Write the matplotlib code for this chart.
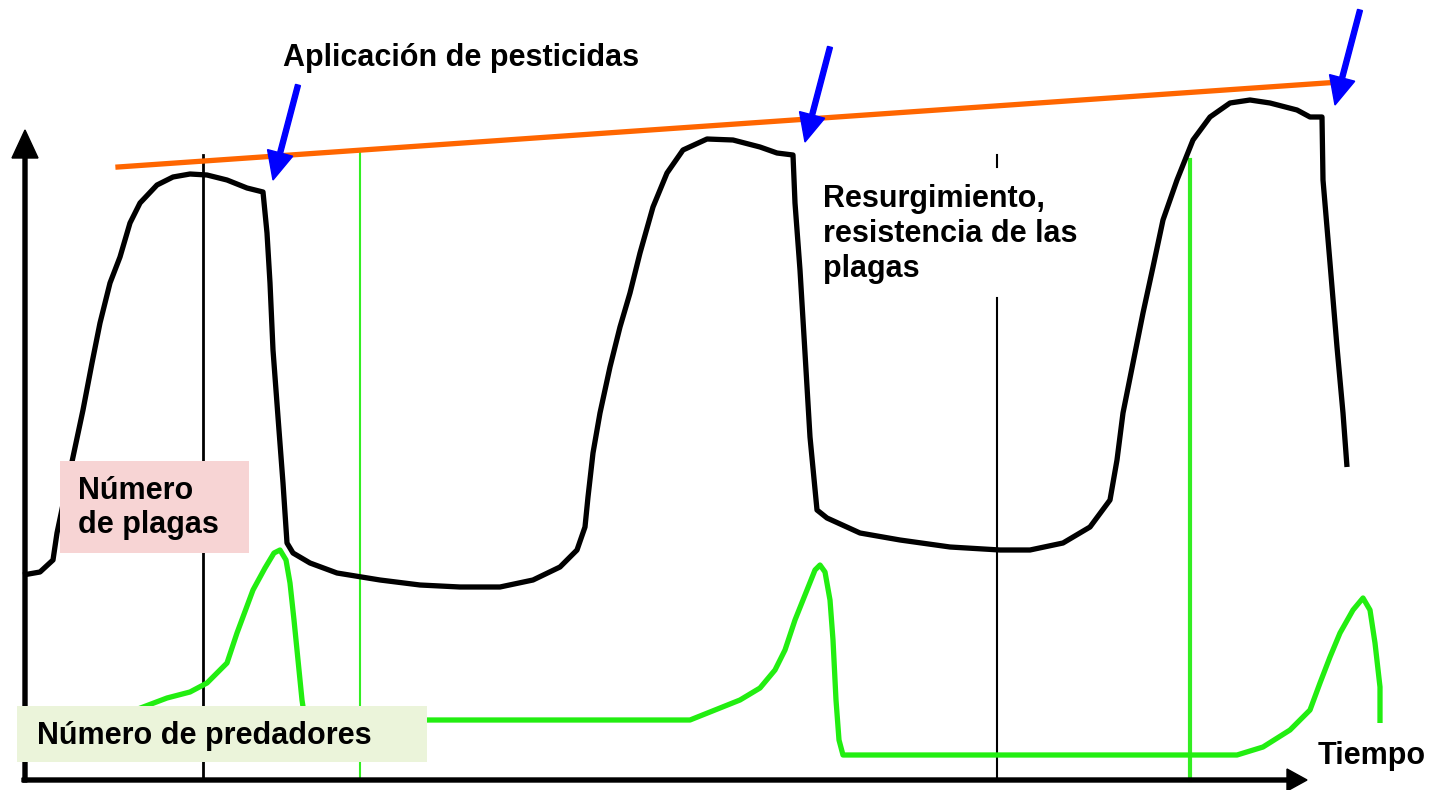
import matplotlib.pyplot as plt
from matplotlib.patches import Rectangle

plt.rcParams['font.family'] = ['Liberation Sans', 'DejaVu Sans']

# pest population (black curve): time, level (diagram units, y grows downward)
pest_t = [23, 40, 53, 57, 65, 73, 83, 92, 100, 110, 120, 130, 140, 157, 173, 190,
          207, 227, 247, 263, 267, 270, 273, 278, 283, 287, 293, 310, 337, 380, 420,
          460, 500, 533, 560, 577, 585, 588, 593, 600, 610, 620, 630, 640, 653, 667,
          683, 707, 733, 760, 777, 793, 795, 800, 805, 810, 817, 827, 860, 900, 950,
          1000, 1030, 1063, 1090, 1110, 1117, 1123, 1133, 1143, 1153, 1163, 1177,
          1193, 1210, 1230, 1250, 1270, 1297, 1310, 1322, 1323, 1330, 1337, 1343, 1347]
pest_n = [575, 572, 560, 533, 495, 457, 410, 363, 323, 283, 257, 223, 203, 185, 177, 174,
          175, 180, 188, 192, 233, 283, 350, 417, 483, 543, 553, 563, 573, 580, 585,
          587, 587, 580, 567, 550, 527, 497, 453, 413, 367, 327, 293, 253, 207, 173,
          150, 139, 140, 147, 153, 155, 203, 270, 353, 437, 510, 518, 533, 540, 547,
          550, 550, 543, 527, 500, 460, 413, 363, 313, 267, 220, 180,
          140, 117, 103, 100, 103, 110, 117, 117, 180, 263, 347, 413, 467]

# predator population (green curve)
pred_t = [25, 130, 167, 190, 207, 227, 237, 253, 265, 274, 280, 286, 290, 294, 297,
          302, 305, 690, 710, 740, 760, 775, 785, 795, 805, 815, 820, 825, 830, 833,
          836, 839, 843, 1237, 1263, 1290, 1310, 1320, 1330, 1340, 1353, 1363, 1370,
          1375, 1380, 1380]
pred_n = [720, 712, 698, 692, 683, 663, 633, 590, 568, 553, 550, 560, 583, 620, 650,
          700, 720, 720, 712, 700, 688, 670, 650, 620, 595, 570, 565, 572, 600, 640,
          700, 740, 755, 755, 747, 730, 710, 683, 657, 633, 610, 598, 610,
          643, 687, 723]

# resistance trend line and pesticide application times
trend_t = [118, 1340]
trend_n = [167, 82]
spray_t = [273, 805, 1335]
spray_n = [180, 142, 105]

fig = plt.figure(figsize=(14.31, 7.9), dpi=100)
ax = fig.add_axes([0, 0, 1, 1])
ax.set_xlim(0, 1431)
ax.set_ylim(790, 0)
ax.axis('off')

# reference lines
ax.plot([203, 203], [155, 780], color='black', lw=2)
ax.plot([997, 997], [155, 167], color='black', lw=1.5)
ax.plot([997, 997], [298, 780], color='black', lw=1.5)
ax.plot([360, 360], [150, 780], color='#33ee22', lw=1.5)
ax.plot([1190, 1190], [160, 780], color='#33ee22', lw=3)

# axes with arrows
ax.arrow(25, 782, 0, -652, width=4, head_width=26, head_length=28,
         length_includes_head=True, color='black', zorder=3)
ax.arrow(22, 780, 1285, 0, width=4, head_width=22, head_length=20,
         length_includes_head=True, color='black', zorder=3)

ax.plot(pest_t, pest_n, color='black', lw=3.8, solid_joinstyle='round',
        solid_capstyle='butt', zorder=2)
ax.plot(pred_t, pred_n, color='#22ee11', lw=3.8, solid_joinstyle='round',
        solid_capstyle='butt', zorder=2)
ax.plot(trend_t, trend_n, color='#ff6600', lw=3.8, zorder=2)

for t, n in zip(spray_t, spray_n):
    ax.arrow(t + 25, n - 95, -25, 95, width=5, head_width=26, head_length=28,
             length_includes_head=True, color='#0000ff', zorder=4)

ax.add_patch(Rectangle((60, 461), 189, 92, facecolor='#f7d4d4', edgecolor='none', zorder=5))
ax.add_patch(Rectangle((17, 706), 410, 56, facecolor='#ebf4da', edgecolor='none', zorder=5))

fs = 22
ax.text(283, 58, 'Aplicación de pesticidas', fontsize=fs, fontweight='bold',
        va='center', ha='left')
ax.text(823, 234, 'Resurgimiento,\nresistencia de las\nplagas', fontsize=fs,
        fontweight='bold', va='center', ha='left', linespacing=1.2)
ax.text(78, 508, 'Número\nde plagas', fontsize=fs, fontweight='bold',
        va='center', ha='left', linespacing=1.2, zorder=6)
ax.text(37, 736, 'Número de predadores', fontsize=fs, fontweight='bold',
        va='center', ha='left', zorder=6)
ax.text(1318, 756, 'Tiempo', fontsize=fs, fontweight='bold', va='center', ha='left')

fig.savefig('out.png', dpi=100)
